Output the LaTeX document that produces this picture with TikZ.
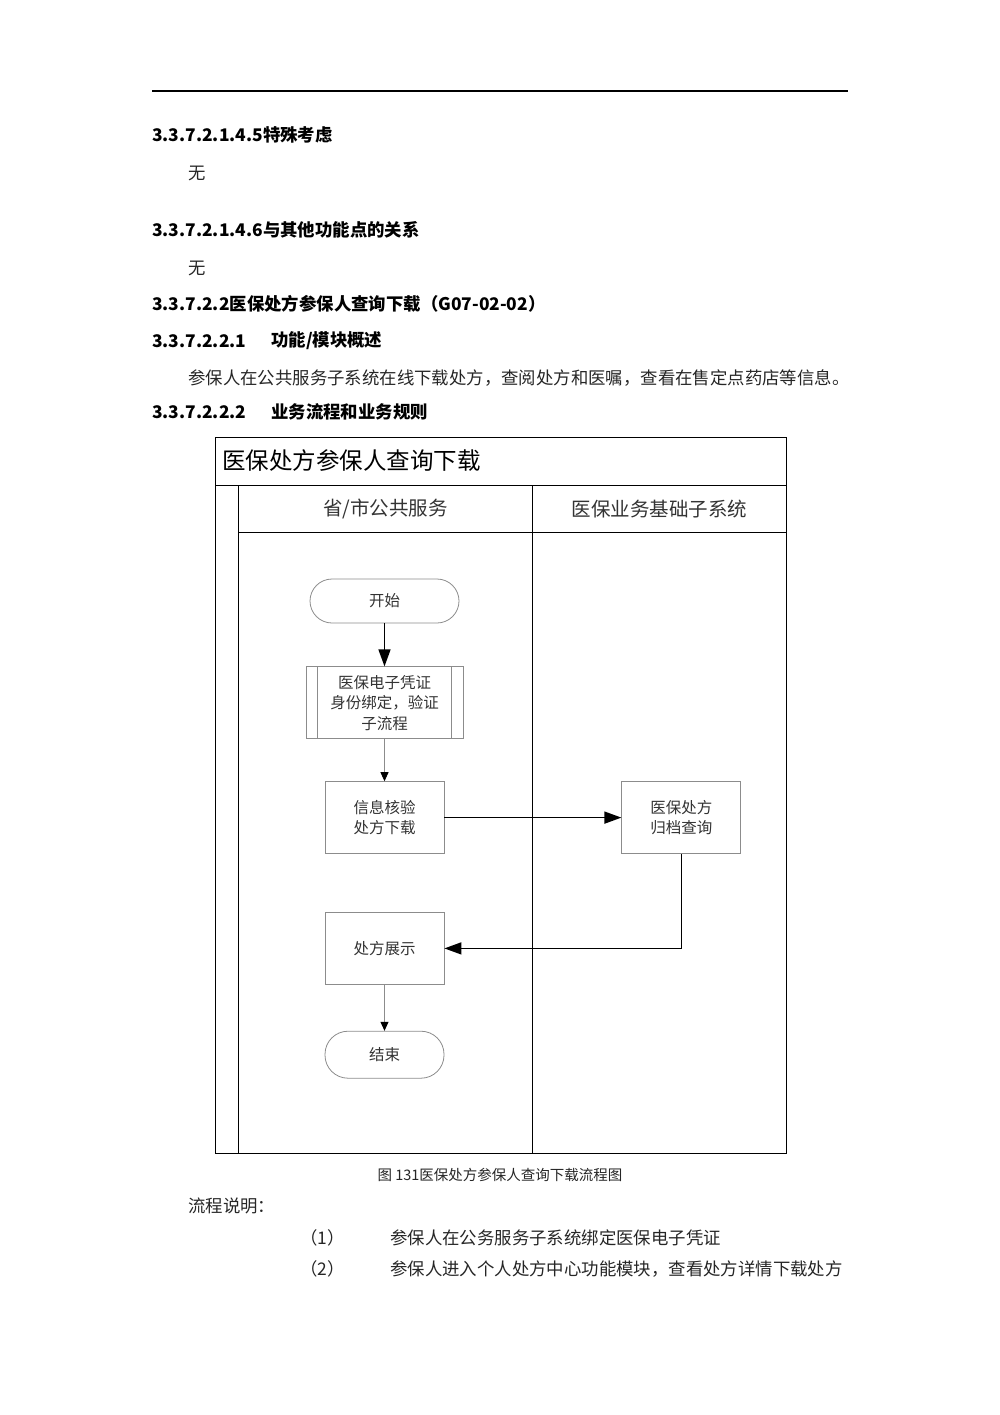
\documentclass[tikz,border=0pt]{standalone}
\usepackage{fontspec}
\setmainfont{Noto Sans CJK SC}
\usetikzlibrary{positioning,arrows.meta}

\begin{document}
\begin{tikzpicture}[x=1pt,y=-1pt,node distance=43pt,
    body/.style={anchor=west,inner sep=0pt,text=black!85,font=\fontsize{17.4}{20}\selectfont},
    head/.style={anchor=west,inner sep=0pt,font=\fontsize{17.4}{20}\selectfont\bfseries},
    pool/.style={draw,line width=1.3pt,inner sep=0pt,anchor=north west},
    lanehead/.style={pool,text=black!80,font=\fontsize{19.5}{22}\selectfont},
    box/.style={draw=black!45,line width=0.8pt,inner sep=0pt,minimum width=119pt,minimum height=72pt,align=center,text=black!80,font=\fontsize{15.5}{20.5}\selectfont},
    terminal/.style={box,rounded corners=22pt,minimum height=44pt},
    flow/.style={draw=black!45,line width=0.8pt,-{Triangle[length=9pt,width=8pt,color=black]}},
    cross/.style={draw=black,line width=1.5pt,-{Triangle[length=17pt,width=12pt]}}]
      \useasboundingbox (0,0) rectangle (1000,1415);
      \draw[line width=1.3pt] (152,91) -- (848,91);

      \node[head] (h1) at (152,135) {3.3.7.2.1.4.5特殊考虑};
      \node[body] (t1) at (188,173) {无};
      \node[head] (h2) at (152,230) {3.3.7.2.1.4.6与其他功能点的关系};
      \node[body] (t2) at (188,268) {无};
      \node[head] (h3) at (152,304) {3.3.7.2.2医保处方参保人查询下载（G07-02-02）};
      \node[head] (h4) at (152,341) {3.3.7.2.2.1};
      \node[head] (h4t) at (271,341) {功能/模块概述};
      \node[body] (t3) at (188,378) {参保人在公共服务子系统在线下载处方，查阅处方和医嘱，查看在售定点药店等信息。};
      \node[head] (h5) at (152,412) {3.3.7.2.2.2};
      \node[head] (h5t) at (271,412) {业务流程和业务规则};

      \node[pool,minimum width=571pt,minimum height=48pt] (pooltitle) at (215,437) {};
      \node[anchor=west,inner sep=0pt,font=\fontsize{23.5}{26}\selectfont] (titletext) at (222,461) {医保处方参保人查询下载};
      \node[pool,minimum width=23pt,minimum height=668pt] (strip) at (215,485) {};
      \node[lanehead,minimum width=294pt,minimum height=47pt] (laneA) at (238,485) {省/市公共服务};
      \node[lanehead,minimum width=254pt,minimum height=47pt] (laneB) at (532,485) {医保业务基础子系统};
      \node[pool,minimum width=294pt,minimum height=621pt] (bodyA) at (238,532) {};
      \node[pool,minimum width=254pt,minimum height=621pt] (bodyB) at (532,532) {};

      \node[terminal,minimum width=149pt] (start) at (384.5,601) {开始};
      \node[box,minimum width=157pt] (verify) [below=of start] {医保电子凭证\\身份绑定，验证\\子流程};
      \draw[draw=black!45,line width=0.8pt] ([xshift=12pt]verify.north west) -- ([xshift=12pt]verify.south west)
        ([xshift=-12pt]verify.north east) -- ([xshift=-12pt]verify.south east);
      \node[box] (check) [below=42pt of verify] {信息核验\\处方下载};
      \node[box] (archive) [right=177pt of check] {医保处方\\归档查询};
      \node[box] (show) [below=58pt of check] {处方展示};
      \node[terminal,minimum height=47pt,rounded corners=23pt] (finish) [below=46pt of show] {结束};

      \path (start) edge[cross] (verify);
      \path (verify) edge[flow] (check);
      \path (check) edge[cross] (archive);
      \draw[cross] (archive) |- (show);
      \path (show) edge[flow] (finish);

      \node[inner sep=0pt,text=black!85,font=\fontsize{14.5}{16}\selectfont] (caption) at (500,1175) {图 131医保处方参保人查询下载流程图};
      \node[body] (note) at (188,1206) {流程说明：};
      \node[body] (n1) at (300,1238) {（1）};
      \node[body] (n1t) at (390,1238) {参保人在公务服务子系统绑定医保电子凭证};
      \node[body] (n2) at (300,1269) {（2）};
      \node[body] (n2t) at (390,1269) {参保人进入个人处方中心功能模块，查看处方详情下载处方};
    \end{tikzpicture}
\end{document}
